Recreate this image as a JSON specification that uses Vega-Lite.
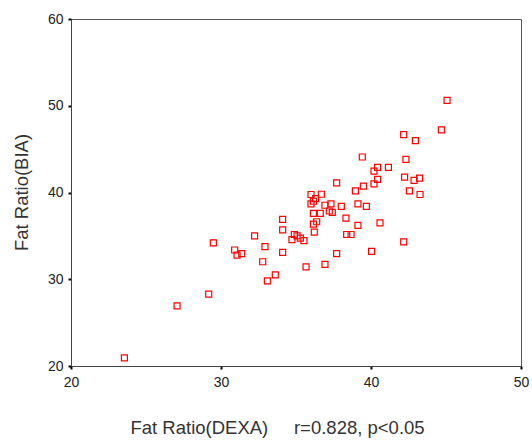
{
  "$schema": "https://vega.github.io/schema/vega-lite/v6.json",
  "autosize": "none",
  "width": 450,
  "height": 347,
  "padding": {"left": 71, "top": 19, "right": 11, "bottom": 74},
  "background": "white",
  "config": {
    "view": {"stroke": "#555", "strokeWidth": 1},
    "font": "Liberation Sans",
    "axis": {
      "grid": false,
      "domainColor": "#444",
      "tickColor": "#000",
      "tickSize": 3,
      "tickWidth": 2,
      "labelFont": "Liberation Sans",
      "labelFontSize": 14,
      "labelColor": "#222",
      "titleFont": "Liberation Sans",
      "titleFontSize": 18.5,
      "titleFontWeight": "normal",
      "titleColor": "#333"
    }
  },
  "data": {
    "values": [
      {"dexa": 45.07, "bia": 50.62}, {"dexa": 44.69, "bia": 47.22}, {"dexa": 42.18, "bia": 46.68},
      {"dexa": 42.96, "bia": 45.98}, {"dexa": 39.42, "bia": 44.09}, {"dexa": 42.33, "bia": 43.82},
      {"dexa": 40.44, "bia": 42.90}, {"dexa": 40.20, "bia": 42.47}, {"dexa": 41.16, "bia": 42.90},
      {"dexa": 42.24, "bia": 41.78}, {"dexa": 43.24, "bia": 41.66}, {"dexa": 42.87, "bia": 41.39},
      {"dexa": 40.44, "bia": 41.51}, {"dexa": 40.20, "bia": 41.00}, {"dexa": 37.71, "bia": 41.12},
      {"dexa": 39.49, "bia": 40.73}, {"dexa": 38.96, "bia": 40.19}, {"dexa": 42.56, "bia": 40.19},
      {"dexa": 43.27, "bia": 39.77}, {"dexa": 36.00, "bia": 39.77}, {"dexa": 36.69, "bia": 39.80},
      {"dexa": 36.31, "bia": 39.30}, {"dexa": 36.16, "bia": 38.99}, {"dexa": 36.00, "bia": 38.68},
      {"dexa": 36.93, "bia": 38.53}, {"dexa": 37.33, "bia": 38.68}, {"dexa": 38.02, "bia": 38.41},
      {"dexa": 39.13, "bia": 38.68}, {"dexa": 39.69, "bia": 38.41}, {"dexa": 36.16, "bia": 37.60},
      {"dexa": 36.62, "bia": 37.60}, {"dexa": 37.22, "bia": 37.87}, {"dexa": 37.42, "bia": 37.71},
      {"dexa": 38.33, "bia": 37.05}, {"dexa": 34.11, "bia": 36.90}, {"dexa": 36.16, "bia": 36.36},
      {"dexa": 36.38, "bia": 36.63}, {"dexa": 40.60, "bia": 36.51}, {"dexa": 39.13, "bia": 36.20},
      {"dexa": 34.11, "bia": 35.70}, {"dexa": 36.22, "bia": 35.43}, {"dexa": 34.89, "bia": 35.16},
      {"dexa": 35.07, "bia": 35.00}, {"dexa": 34.73, "bia": 34.57}, {"dexa": 35.29, "bia": 34.73},
      {"dexa": 35.53, "bia": 34.46}, {"dexa": 32.24, "bia": 35.00}, {"dexa": 38.38, "bia": 35.16},
      {"dexa": 38.67, "bia": 35.16}, {"dexa": 29.49, "bia": 34.19}, {"dexa": 42.18, "bia": 34.30},
      {"dexa": 32.93, "bia": 33.76}, {"dexa": 30.91, "bia": 33.37}, {"dexa": 31.07, "bia": 32.79},
      {"dexa": 31.38, "bia": 32.95}, {"dexa": 34.11, "bia": 33.10}, {"dexa": 37.71, "bia": 32.95},
      {"dexa": 40.04, "bia": 33.22}, {"dexa": 32.78, "bia": 32.02}, {"dexa": 35.67, "bia": 31.43},
      {"dexa": 36.93, "bia": 31.71}, {"dexa": 33.62, "bia": 30.50}, {"dexa": 33.09, "bia": 29.81},
      {"dexa": 29.18, "bia": 28.29}, {"dexa": 27.07, "bia": 26.94}, {"dexa": 23.56, "bia": 20.93}
    ]
  },
  "mark": {"type": "point", "shape": "square", "filled": false, "color": "#ff0000", "size": 36, "strokeWidth": 1.2, "opacity": 1},
  "encoding": {
    "x": {
      "field": "dexa", "type": "quantitative",
      "scale": {"domain": [20, 50], "nice": false, "zero": false},
      "axis": {
        "values": [20, 30, 40, 50],
        "title": "Fat Ratio(DEXA)\u00a0\u00a0\u00a0\u00a0\u00a0r=0.828,\u00a0p<0.05",
        "labelPadding": 6,
        "labelFlush": false,
        "titleX": 59,
        "titleY": 61,
        "titleAlign": "left",
        "titleBaseline": "middle"
      }
    },
    "y": {
      "field": "bia", "type": "quantitative",
      "scale": {"domain": [20, 60], "nice": false, "zero": false},
      "axis": {
        "values": [20, 30, 40, 50, 60],
        "title": "Fat Ratio(BIA)",
        "labelPadding": 5,
        "labelFlush": false,
        "titleX": -50,
        "titleY": 173,
        "titleAngle": -90,
        "titleAlign": "center",
        "titleBaseline": "middle"
      }
    }
  }
}
